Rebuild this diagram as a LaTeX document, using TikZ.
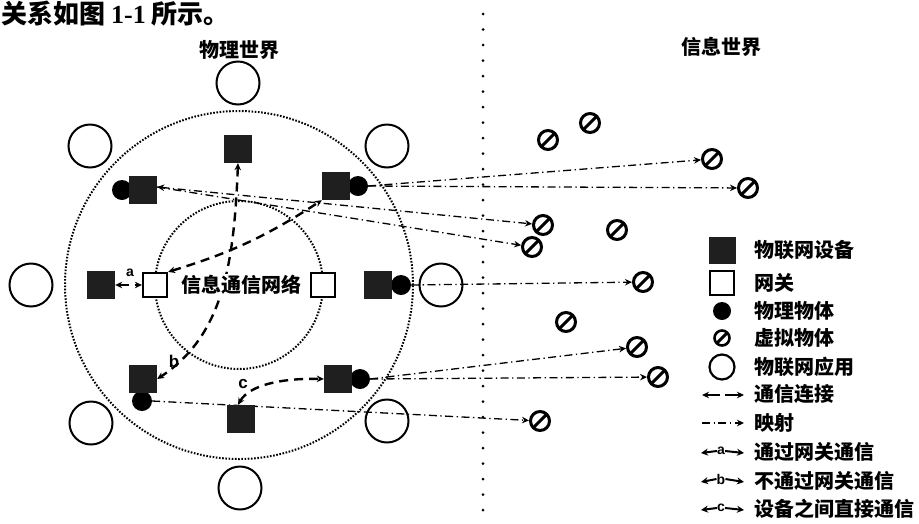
\documentclass[tikz,border=0pt]{standalone}
\usepackage{fontspec}
\setmainfont{Liberation Sans}
\newfontfamily\cjk{Noto Sans CJK SC}
\newfontfamily\serifb{Liberation Serif}
\usetikzlibrary{arrows.meta,calc}
\pgfdeclarelayer{bg}
\pgfsetlayers{bg,main}
\begin{document}
\begin{tikzpicture}[x=1pt,y=-1pt,
  >={Stealth[length=7pt,width=6.5pt]},
  devbox/.style={rectangle,fill=black!88,minimum size=28pt,inner sep=0pt},
  gwbox/.style={rectangle,draw,line width=2.2pt,fill=white,minimum size=24pt,inner sep=0pt},
  physdot/.style={circle,fill=black,minimum size=20pt,inner sep=0pt},
  appcirc/.style={circle,draw,line width=2pt,minimum size=43pt,inner sep=0pt},
  virt/.style={circle,draw,line width=3pt,minimum size=19pt,inner sep=0pt,
    path picture={\draw[line width=3pt] (path picture bounding box.south west) -- (path picture bounding box.north east);}},
  ringc/.style={circle,draw,line width=2pt,dash pattern=on 1.6pt off 1.6pt,inner sep=0pt},
  commline/.style={line width=2.4pt,dash pattern=on 9pt off 6pt,<->},
  mapline/.style={line width=1.3pt,dash pattern=on 8pt off 3.5pt on 1.3pt off 3.5pt,->},
  keyarrow/.style={line width=2pt,-{Stealth[length=7pt,width=7pt]}},
  cjklbl/.style={font=\cjk\bfseries\fontsize{20pt}{24pt}\selectfont,inner sep=0pt},
  letter/.style={font=\bfseries\fontsize{17pt}{19pt}\selectfont,inner sep=0pt},
  keyletter/.style={font=\bfseries\fontsize{14pt}{16pt}\selectfont,inner sep=0pt}
]
\useasboundingbox (0,0) rectangle (919,523);

% header text
\node[anchor=base west,inner sep=0pt,font=\cjk\bfseries\fontsize{26pt}{28pt}\selectfont] (hdr) at (1,23) {关系如图 {\serifb\bfseries 1-1} 所示。};

% titles
\node[cjklbl] (t1) at (239,50) {物理世界};
\node[cjklbl] (t2) at (721,47) {信息世界};

% separator
\coordinate (septop) at (483,14);
\coordinate (sepbot) at (483,523);
\draw[line width=3pt,line cap=round,dash pattern=on 0pt off 15.5pt] (septop) -- (sepbot);

% rings
\begin{pgfonlayer}{bg}
\node[ringc,minimum size=348pt] (outer) at (239,285) {};
\node[ringc,minimum size=168pt] (inner) at (239,285) {};
\end{pgfonlayer}

% applications
\node[appcirc] (app1) at (238,83) {};
\node[appcirc] (app2) at (90,146) {};
\node[appcirc] (app3) at (387,146) {};
\node[appcirc] (app4) at (31,285) {};
\node[appcirc] (app5) at (441,285) {};
\node[appcirc] (app6) at (91,423) {};
\node[appcirc] (app7) at (387,421) {};
\node[appcirc] (app8) at (240,488) {};

% physical objects
\node[physdot] (phul) at (122,190) {};
\node[physdot] (phur) at (358,186) {};
\node[physdot] (phr) at (401,285) {};
\node[physdot] (phll) at (142,401) {};
\node[physdot] (phlr) at (360,379) {};

% devices
\node[devbox] (devtop) at (238,149) {};
\node[devbox] (devul) at (143,190) {};
\node[devbox] (devur) at (336,186) {};
\node[devbox] (devl) at (101,285) {};
\node[devbox] (devr) at (378,285) {};
\node[devbox] (devll) at (143,379) {};
\node[devbox] (devb) at (241,419) {};
\node[devbox] (devlr) at (338,379) {};

% gateways and network
\node[gwbox] (gwl) at (155,285) {};
\node[gwbox] (gwr) at (323,285) {};
\node[cjklbl,fill=white,inner sep=1pt] (net) at (241,285) {信息通信网络};

% virtual objects
\node[virt] (v1) at (548,140) {};
\node[virt] (v2) at (590,123) {};
\node[virt] (v3) at (712,159) {};
\node[virt] (v4) at (748,188) {};
\node[virt] (v5) at (543,225) {};
\node[virt] (v6) at (617,230) {};
\node[virt] (v7) at (532,247) {};
\node[virt] (v8) at (643,282) {};
\node[virt] (v9) at (566,322) {};
\node[virt] (v10) at (637,347) {};
\node[virt] (v11) at (658,377) {};
\node[virt] (v12) at (540,421) {};

% connectors
\begin{pgfonlayer}{bg}
% mapping
\draw[mapline] (phur.east) -- (v3);
\draw[mapline] (phur.east) -- (v4);
\draw[mapline,<->] ($(devul.east)+(0,-3)$) -- (v5);
\draw[mapline] ($(devul.east)+(0,-3)$) -- (v7);
\draw[mapline] (phr.east) -- (v8);
\draw[mapline] (phlr.east) -- (v10);
\draw[mapline] (phlr.east) -- (v11);
\draw[mapline] (phll.east) -- (v12);
% communication
\draw[commline] (devl.east) -- (gwl.west);
\draw[commline] (gwl.north east) to[bend right=8] (devur.south west);
\draw[commline] (devtop.south) .. controls (234,262) and (224,335) .. (devll.east);
\draw[commline] ($(devb.north)+(-3,0)$) .. controls (250,384) and (285,378) .. (devlr.west);
\end{pgfonlayer}
\node[keyletter] (la) at (130,273) {a};
\node[letter] (lb) at (174,361) {b};
\node[letter] (lc) at (243,384) {c};

% legend
\node[devbox,minimum size=27pt] (kdev) at (722,250) {};
\node[gwbox] (kgw) at (722,283) {};
\node[physdot,minimum size=18pt] (kph) at (722,311) {};
\node[virt,minimum size=15pt,line width=2.6pt] (kv) at (722,338) {};
\node[appcirc,minimum size=25pt,line width=2.2pt] (kapp) at (722,367) {};
\coordinate (kc1) at (702,395);
\coordinate (kc2) at (744,395);
\draw[commline,dash pattern=on 14pt off 5pt] (kc1) -- (kc2);
\coordinate (km1) at (702,423);
\coordinate (km2) at (744,423);
\draw[mapline,line width=1.6pt] (km1) -- (km2);
\node[keyletter] (ka) at (721,451) {a};
\coordinate (ka1) at (701,453);
\coordinate (ka2) at (744,453);
\draw[keyarrow] (ka.west) -- (ka1);
\draw[keyarrow] (ka.east) -- (ka2);
\node[keyletter] (kb) at (721,479) {b};
\coordinate (kb1) at (701,482);
\coordinate (kb2) at (744,482);
\draw[keyarrow] (kb.west) -- (kb1);
\draw[keyarrow] (kb.east) -- (kb2);
\node[keyletter] (kcc) at (721,508) {c};
\coordinate (kcc1) at (701,510);
\coordinate (kcc2) at (744,510);
\draw[keyarrow] (kcc.west) -- (kcc1);
\draw[keyarrow] (kcc.east) -- (kcc2);

\node[cjklbl,anchor=west] (kt1) at (754,250) {物联网设备};
\node[cjklbl,anchor=west] (kt2) at (754,283) {网关};
\node[cjklbl,anchor=west] (kt3) at (754,311) {物理物体};
\node[cjklbl,anchor=west] (kt4) at (754,338) {虚拟物体};
\node[cjklbl,anchor=west] (kt5) at (754,367) {物联网应用};
\node[cjklbl,anchor=west] (kt6) at (754,394) {通信连接};
\node[cjklbl,anchor=west] (kt7) at (754,423) {映射};
\node[cjklbl,anchor=west] (kt8) at (754,452) {通过网关通信};
\node[cjklbl,anchor=west] (kt9) at (754,481) {不通过网关通信};
\node[cjklbl,anchor=west] (kt10) at (754,509) {设备之间直接通信};
\end{tikzpicture}
\end{document}
